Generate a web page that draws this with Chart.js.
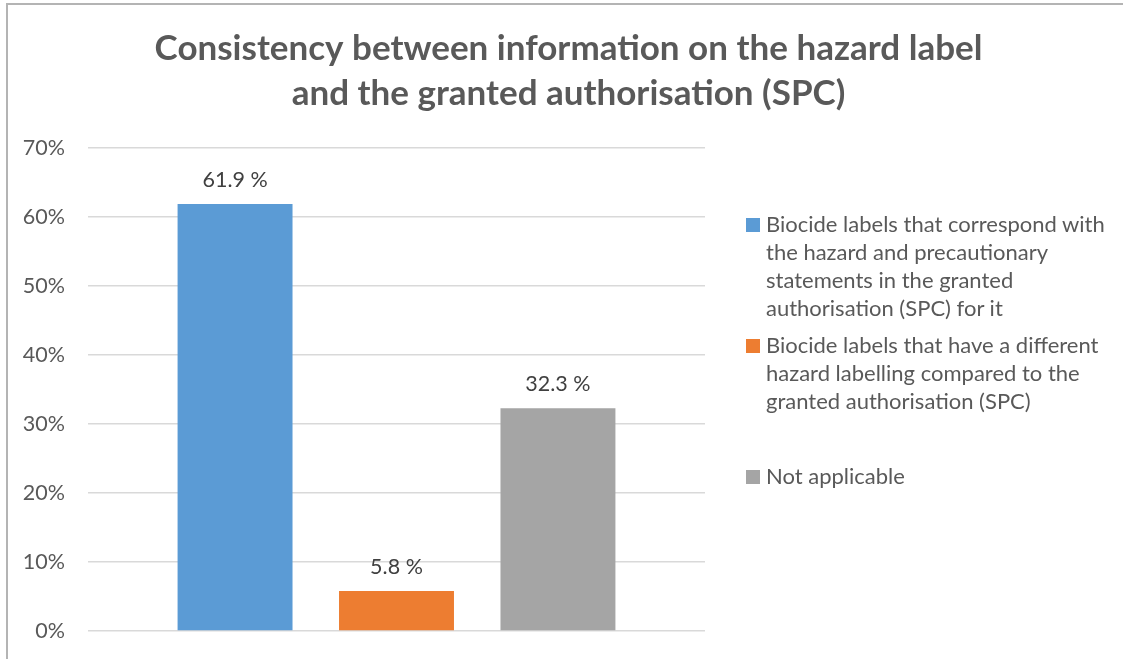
<!DOCTYPE html>
<html>
<head>
<meta charset="utf-8">
<script src="https://cdn.jsdelivr.net/npm/chart.js@4.4.1/dist/chart.umd.min.js"></script>
<style>
  body { margin: 0; background: #fff; }
  #wrap { position: relative; width: 1123px; height: 659px; overflow: hidden; }
  #consistency { display: block; }
  #frame { position: absolute; left: 6px; top: 3px; right: 0; bottom: 0; border-top: 2px solid #b4b4b4; border-left: 2px solid #b4b4b4; pointer-events: none; }
  .lg { position: absolute; left: 746px; font: 22px Lato, sans-serif; line-height: 28px; color: #595959; white-space: nowrap; }
  .lg i { position: absolute; left: 0; top: 8px; width: 14px; height: 14px; }
  .lg span { display: block; margin-left: 20px; }
</style>
</head>
<body>
<div id="wrap">
  <canvas id="consistency" width="1123" height="659"></canvas>
  <div id="frame"></div>
</div>
<script>
var categories = [''];
var seriesNames = [
    'Biocide labels that correspond with the hazard and precautionary statements in the granted authorisation (SPC) for it',
    'Biocide labels that have a different hazard labelling compared to the granted authorisation (SPC)',
    'Not applicable'
];
var legendLines = [
    ['Biocide labels that correspond with', 'the hazard and precautionary', 'statements in the granted', 'authorisation (SPC) for it'],
    ['Biocide labels that have a different', 'hazard labelling compared to the', 'granted authorisation (SPC)'],
    ['Not applicable']
];
var seriesValues = [61.9, 5.8, 32.3];
var seriesColors = ['#5b9bd5', '#ed7d31', '#a5a5a5'];
var yTicks = ['0%', '10%', '20%', '30%', '40%', '50%', '60%', '70%'];
var titleLines = ['Consistency between information on the hazard label', 'and the granted authorisation (SPC)'];

var legendTops = [210, 331, 462];

var valueLabels = {
    id: 'valueLabels',
    afterDatasetsDraw: function(chart){
        var ctx = chart.ctx;
        ctx.save();
        ctx.font = '21.5px Lato, sans-serif';
        ctx.fillStyle = '#404040';
        ctx.textAlign = 'center';
        ctx.textBaseline = 'alphabetic';
        chart.data.datasets.forEach(function(ds, i){
            var bar = chart.getDatasetMeta(i).data[0];
            ctx.fillText(ds.data[0].toFixed(1) + ' %', bar.x, bar.y - 17);
        });
        ctx.restore();
    }
};

var datasets = seriesNames.map(function(name, i){
    return {
        label: name,
        data: [seriesValues[i]],
        backgroundColor: seriesColors[i],
        borderWidth: 0,
        categoryPercentage: 0.785,
        barPercentage: 0.712
    };
});

var consistency = new Chart(document.getElementById('consistency').getContext('2d'), {
    type: 'bar',
    data: {
        labels: categories,
        datasets: datasets
    },
    options: {
        responsive: false,
        animation: false,
        devicePixelRatio: 1,
        layout: { padding: { left: 14, right: 0, top: 0, bottom: 28 } },
        plugins: {
            legend: { display: false },
            tooltip: { enabled: false },
            title: {
                display: true,
                text: titleLines,
                color: '#595959',
                font: { family: 'Lato', size: 35, weight: 'bold', lineHeight: 1.286 },
                padding: { top: 26, bottom: 32 }
            }
        },
        scales: {
            x: { display: false },
            y: {
                min: 0,
                max: 70,
                afterFit: function(s){ s.width = 74; },
                border: { display: false },
                grid: { color: '#d9d9d9', lineWidth: 1.5, drawTicks: true, tickLength: 23, tickColor: 'rgba(0,0,0,0)' },
                ticks: {
                    stepSize: 10,
                    padding: 0,
                    color: '#595959',
                    font: { family: 'Lato', size: 21.5 },
                    callback: function(v){ return yTicks[Math.round(v / 10)]; }
                }
            },
            spacer: {
                type: 'linear',
                position: 'right',
                afterFit: function(s){ s.width = 418; },
                border: { display: false },
                grid: { display: false },
                ticks: { display: false }
            }
        }
    },
    plugins: [valueLabels]
});

var wrap = document.getElementById('wrap');
legendLines.forEach(function(lines, i){
    var item = document.createElement('div');
    item.className = 'lg';
    item.style.top = legendTops[i] + 'px';
    var box = document.createElement('i');
    box.style.background = seriesColors[i];
    item.appendChild(box);
    lines.forEach(function(t){
        var s = document.createElement('span');
        s.textContent = t;
        item.appendChild(s);
    });
    wrap.appendChild(item);
});
</script>
</body>
</html>
